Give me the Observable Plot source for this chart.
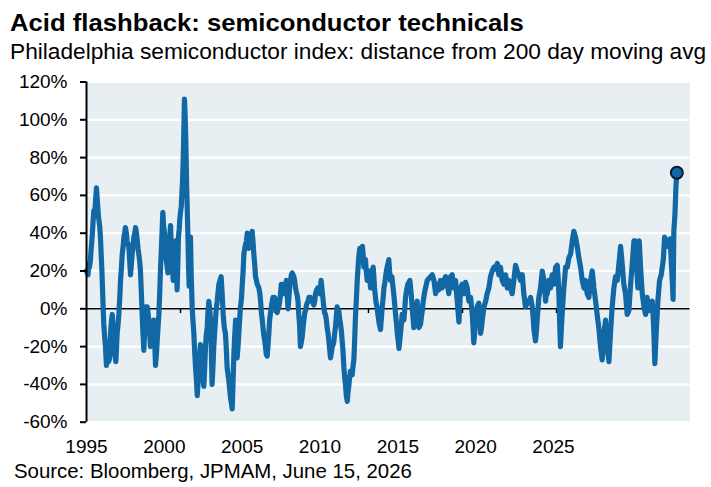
<!DOCTYPE html>
<html>
<head>
<meta charset="utf-8">
<script src="https://cdn.jsdelivr.net/npm/d3@7"></script>
<script src="https://cdn.jsdelivr.net/npm/@observablehq/plot@0.6"></script>
<style>
  body { margin: 0; background: #fff; }
  #wrap { position: relative; width: 711px; height: 487px; overflow: hidden; font-family: "Liberation Sans", Arial, sans-serif; color: #000; }
  #wrap svg { position: absolute; left: 0; }
  .txt { position: absolute; white-space: nowrap; transform-origin: left center; }
  #title { left: 10px; top: 11px; font-size: 24px; line-height: 24px; font-weight: bold; transform: scaleX(1.07); }
  #subtitle { left: 10px; top: 40px; font-size: 22.7px; line-height: 23px; }
  #caption { left: 14px; top: 461px; font-size: 20.4px; line-height: 20px; }
</style>
</head>
<body>
<div id="wrap"></div>
<script>
// Philadelphia semiconductor index, % distance from its 200-day moving average
// [decimal year, percent]
const seg1995 = [
  [1995.00,20],[1995.04,19],[1995.08,18],[1995.12,24],[1995.16,22],[1995.21,26],[1995.25,32],[1995.30,38],[1995.35,46],[1995.39,52],
  [1995.44,50],[1995.48,57],[1995.53,64],[1995.57,58],[1995.60,54],[1995.63,49],[1995.66,47],[1995.71,43],[1995.75,36],[1995.78,29],
  [1995.82,20],[1995.85,11],[1995.88,2],[1995.92,-8],[1995.96,-14],[1996.01,-20],[1996.06,-30],[1996.10,-24],[1996.13,-24],[1996.17,-28],
  [1996.21,-27],[1996.25,-20],[1996.28,-13],[1996.33,-6],[1996.37,-3],[1996.42,-10],[1996.46,-18],[1996.49,-24],[1996.53,-26],[1996.56,-28],
  [1996.60,-20],[1996.63,-13],[1996.68,-8],[1996.72,-3],[1996.77,6],[1996.81,15],[1996.86,22],[1996.90,29],[1996.95,33],[1996.99,38],
  [1997.03,40],[1997.07,43],[1997.12,40],[1997.16,36],[1997.21,34],[1997.25,33],[1997.30,25],[1997.34,18],[1997.39,24],[1997.43,29],
  [1997.48,34],[1997.52,38],[1997.57,40],[1997.61,43],[1997.66,40],[1997.70,36],[1997.74,32],[1997.78,29],[1997.83,25],[1997.87,20],
  [1997.92,8],[1997.96,-3],[1998.00,-12],[1998.05,-22],[1998.10,-10],[1998.14,1],[1998.19,-2],[1998.23,1],[1998.28,-3],[1998.32,-6],
  [1998.36,-13],[1998.40,-20],[1998.45,-14],[1998.49,-10],[1998.54,-8],[1998.58,-6],[1998.63,-18],[1998.67,-30],[1998.72,-24],[1998.76,-17],
  [1998.81,-9],[1998.85,-3],[1998.90,10],[1998.94,22],[1999.00,36],[1999.06,51],[1999.10,44],[1999.15,40],[1999.19,33],[1999.22,27],
  [1999.27,24],[1999.33,19],[1999.36,26],[1999.40,33],[1999.44,40],[1999.47,44],[1999.50,36],[1999.54,29],[1999.58,22],[1999.61,15],
  [1999.64,22],[1999.68,29],[1999.71,33],[1999.75,36],[1999.79,20],[1999.82,10],[1999.86,24],[1999.89,38],[1999.93,42],[1999.96,47],
  [2000.00,51],[2000.04,54],[2000.08,62],[2000.11,68],[2000.14,78],[2000.16,86],[2000.19,100],[2000.21,111],[2000.24,104],[2000.27,94],
  [2000.30,80],[2000.32,68],[2000.36,52],[2000.39,40],[2000.43,22],[2000.46,12],[2000.50,38],[2000.53,38],[2000.57,18],[2000.62,1],
  [2000.66,-6],[2000.71,-13],[2000.75,-22],[2000.80,-31],[2000.85,-38],[2000.89,-46],[2000.93,-40],[2000.98,-34],[2001.02,-25],[2001.06,-19],
  [2001.10,-24],[2001.15,-31],[2001.20,-37],[2001.24,-41],[2001.28,-33],[2001.33,-20],[2001.37,-14],[2001.42,-10],[2001.46,-2],[2001.51,4],
  [2001.55,0],[2001.60,-6],[2001.64,-22],[2001.68,-40],[2001.73,-30],[2001.77,-20],[2001.82,-12],[2001.86,-6],[2001.90,0],[2001.95,4],
  [2002.00,9],[2002.04,13],[2002.10,15],[2002.16,17],[2002.21,9],[2002.27,-3],[2002.33,-10],[2002.39,-13],[2002.44,-22],[2002.48,-31],
  [2002.53,-35],[2002.57,-38],[2002.62,-43],[2002.66,-47],[2002.71,-50],[2002.75,-53],[2002.79,-40],[2002.84,-24],[2002.88,-15],[2002.93,-6],
  [2002.97,-12],[2003.01,-26],[2003.06,-20],[2003.10,-13],[2003.15,-5],[2003.19,1],[2003.24,5],[2003.28,12],[2003.33,20],[2003.37,29],
  [2003.42,32],[2003.46,34],[2003.51,36],[2003.55,40],[2003.59,37],[2003.63,32],[2003.68,35],[2003.72,36],[2003.77,38],[2003.81,41],
  [2003.86,35],[2003.90,29],[2003.95,23],[2003.99,17],[2004.04,15],[2004.08,13],[2004.13,12],[2004.17,11],[2004.22,8],[2004.26,4],
  [2004.30,-2],[2004.34,-5],[2004.39,-10],[2004.43,-14],[2004.48,-17],[2004.52,-20],[2004.56,-24],[2004.61,-25],[2004.65,-20],[2004.70,-13],
  [2004.74,-6],[2004.79,-2],[2004.83,1],[2004.88,4],[2004.92,6],[2004.96,4]
];
const seg2005 = [
  [2005.01,6],[2005.05,3],[2005.10,-1],[2005.14,-2],[2005.19,0],[2005.23,1],[2005.28,4],[2005.32,8],[2005.36,13],[2005.41,13],
  [2005.45,10],[2005.50,8],[2005.54,11],[2005.59,12],[2005.63,15],[2005.67,8],[2005.72,0],[2005.76,5],[2005.81,12],[2005.85,15],
  [2005.90,18],[2005.94,19],[2005.98,18],[2006.03,17],[2006.07,15],[2006.12,11],[2006.16,9],[2006.21,7],[2006.25,4],[2006.29,-3],
  [2006.33,-8],[2006.38,-20],[2006.42,-18],[2006.47,-15],[2006.52,-10],[2006.56,-6],[2006.61,-2],[2006.65,-1],[2006.70,2],[2006.74,3],
  [2006.79,4],[2006.83,6],[2006.87,6],[2006.91,6],[2006.96,5],[2007.00,4],[2007.05,3],[2007.09,2],[2007.14,4],[2007.18,8],
  [2007.24,10],[2007.30,11],[2007.36,9],[2007.41,8],[2007.45,12],[2007.48,15],[2007.51,12],[2007.55,8],[2007.58,5],[2007.62,1],
  [2007.66,-2],[2007.71,-3],[2007.76,-6],[2007.80,-10],[2007.85,-13],[2007.89,-17],[2007.94,-22],[2007.98,-26],[2008.03,-23],[2008.07,-20],
  [2008.12,-19],[2008.16,-17],[2008.20,-13],[2008.24,-10],[2008.29,-4],[2008.33,1],[2008.38,-1],[2008.42,-1],[2008.46,-5],[2008.51,-8],
  [2008.56,-12],[2008.60,-17],[2008.64,-22],[2008.69,-31],[2008.73,-36],[2008.78,-41],[2008.82,-46],[2008.87,-49],[2008.91,-44],[2008.95,-41],
  [2009.00,-36],[2009.04,-33],[2009.09,-34],[2009.13,-35],[2009.18,-30],[2009.22,-27],[2009.27,-15],[2009.31,-3],[2009.36,6],[2009.40,15],
  [2009.44,21],[2009.47,26],[2009.51,30],[2009.54,32],[2009.58,30],[2009.61,29],[2009.65,31],[2009.68,33],[2009.72,28],[2009.75,22],
  [2009.80,24],[2009.84,26],[2009.88,20],[2009.93,15],[2009.97,17],[2010.02,20],[2010.06,16],[2010.11,11],[2010.15,15],[2010.18,18],
  [2010.22,21],[2010.25,22],[2010.29,16],[2010.32,11],[2010.36,7],[2010.39,4],[2010.45,1],[2010.50,-3],[2010.57,-8],[2010.64,-11],
  [2010.69,-4],[2010.73,1],[2010.78,6],[2010.82,11],[2010.87,14],[2010.91,17],[2010.95,20],[2010.99,22],[2011.04,24],[2011.08,26],
  [2011.12,20],[2011.17,15],[2011.24,17],[2011.31,11],[2011.38,4],[2011.44,-3],[2011.49,-8],[2011.53,-13],[2011.58,-17],[2011.62,-21],
  [2011.66,-17],[2011.70,-13],[2011.75,-8],[2011.79,-3],[2011.84,-4],[2011.88,-6],[2011.93,0],[2011.97,6],[2012.03,10],[2012.09,13],
  [2012.15,14],[2012.20,15],[2012.27,8],[2012.32,1],[2012.37,-5],[2012.41,-10],[2012.46,-6],[2012.50,-3],[2012.55,1],[2012.59,4],
  [2012.64,-3],[2012.68,-10],[2012.73,-9],[2012.77,-8],[2012.82,-4],[2012.86,-1],[2012.90,3],[2012.94,6],[2012.99,9],[2013.03,11],
  [2013.08,13],[2013.12,15],[2013.21,16],[2013.30,17],[2013.39,18],[2013.48,15],[2013.57,8],[2013.65,13],[2013.74,10],[2013.83,15],
  [2013.92,11],[2014.01,15],[2014.10,17],[2014.19,13],[2014.27,8],[2014.36,17],[2014.45,18],[2014.54,11],[2014.63,15],[2014.72,4],
  [2014.81,-7],[2014.90,11],[2014.98,13]
];
const seg2015 = [
  [2015.07,8],[2015.16,14],[2015.25,11],[2015.34,4],[2015.43,6],[2015.52,-3],[2015.56,-10],[2015.60,-18],[2015.65,-12],[2015.69,-6],
  [2015.78,1],[2015.87,3],[2015.92,-5],[2015.96,-13],[2016.01,-10],[2016.05,-6],[2016.14,1],[2016.23,4],[2016.31,8],[2016.40,11],
  [2016.49,17],[2016.58,20],[2016.67,22],[2016.76,21],[2016.85,24],[2016.93,18],[2017.02,22],[2017.11,15],[2017.20,13],[2017.29,18],
  [2017.38,11],[2017.47,15],[2017.55,11],[2017.64,8],[2017.73,15],[2017.82,23],[2017.91,20],[2018.00,18],[2018.09,15],[2018.18,18],
  [2018.26,8],[2018.35,1],[2018.44,3],[2018.53,4],[2018.62,6],[2018.71,1],[2018.76,-5],[2018.80,-11],[2018.88,-17],[2018.93,-12],
  [2018.97,-6],[2019.06,6],[2019.15,11],[2019.24,20],[2019.33,15],[2019.38,10],[2019.42,4],[2019.46,8],[2019.51,8],[2019.55,12],
  [2019.59,15],[2019.68,11],[2019.77,18],[2019.86,13],[2019.95,22],[2020.04,23],[2020.09,16],[2020.13,6],[2020.17,-8],[2020.21,-20],
  [2020.25,-12],[2020.30,-3],[2020.35,5],[2020.39,11],[2020.44,17],[2020.48,22],[2020.57,22],[2020.66,27],[2020.75,29],[2020.84,36],
  [2020.92,41],[2021.01,38],[2021.10,33],[2021.19,27],[2021.28,22],[2021.37,15],[2021.46,11],[2021.54,15],[2021.63,8],[2021.72,6],
  [2021.81,15],[2021.90,20],[2021.99,11],[2022.08,4],[2022.16,-3],[2022.25,-10],[2022.34,-20],[2022.43,-27],[2022.48,-20],[2022.52,-13],
  [2022.61,-6],[2022.70,-20],[2022.79,-28],[2022.83,-20],[2022.87,-13],[2022.96,1],[2023.05,11],[2023.14,17],[2023.23,15],[2023.32,24],
  [2023.41,33],[2023.49,24],[2023.58,13],[2023.67,8],[2023.76,-3],[2023.85,-1],[2023.94,13],[2024.03,24],[2024.12,36],[2024.17,36],
  [2024.26,22],[2024.33,11],[2024.40,36],[2024.47,22],[2024.56,8],[2024.65,1],[2024.74,-3],[2024.82,6],[2024.91,-1],[2025.00,3],
  [2025.09,4],[2025.14,-4],[2025.18,-13],[2025.23,-29],[2025.27,-20],[2025.30,-13],[2025.39,4],[2025.48,15],[2025.57,18],[2025.68,26],
  [2025.75,38],[2025.81,33],[2025.86,36],[2025.94,33],[2026.03,37],[2026.08,30],[2026.12,22],[2026.17,12],[2026.20,5],[2026.24,41],
  [2026.30,50],[2026.35,64],[2026.40,72]
];

const yTicks = [-60, -40, -20, 0, 20, 40, 60, 80, 100, 120];
const tickYears = [2000, 2005, 2010, 2015, 2020, 2025];
const yearLabels = [1995, 2000, 2005, 2010, 2015, 2020, 2025];

const titleText = "Acid flashback: semiconductor technicals";
const subtitleText = "Philadelphia semiconductor index: distance from 200 day moving avg";
const captionText = "Source: Bloomberg, JPMAM, June 15, 2026";

const series = [...seg1995, ...seg2005, ...seg2015].map(([year, pct]) => ({year, pct}));
const latest = series[series.length - 1];

const blue = "#1267a5";
const fontFamily = "'Liberation Sans', Arial, sans-serif";

const chart = Plot.plot({
  width: 711,
  height: 430,
  marginLeft: 86,
  marginRight: 21.5,
  marginTop: 81.5,
  marginBottom: 8.3,
  style: {fontFamily, fontSize: "19px", color: "#000", background: "transparent", overflow: "visible"},
  x: {type: "linear", domain: [1995, 2027.1], axis: null},
  y: {domain: [-60, 120], axis: null},
  marks: [
    Plot.frame({fill: "#e7eff3", stroke: null}),
    Plot.gridY(yTicks, {stroke: "#fff", strokeOpacity: 1, strokeWidth: 2.2}),
    Plot.ruleY([0], {stroke: "#000", strokeWidth: 1.6}),
    Plot.ruleX(tickYears, {x: d => d, y1: 0, y2: -2.5, stroke: "#000", strokeWidth: 1.5}),
    Plot.line(series, {x: "year", y: "pct", stroke: blue, strokeWidth: 5.2, strokeLinejoin: "round", strokeLinecap: "round"}),
    Plot.dot([latest], {x: "year", y: "pct", r: 6, fill: blue, stroke: "#0b1b2b", strokeWidth: 2}),
    Plot.ruleX([1995], {stroke: "#000", strokeWidth: 2}),
    Plot.axisY({ticks: yTicks, tickFormat: d => d + "%", tickSize: 6, tickPadding: 13, stroke: "#000", strokeWidth: 2, fontSize: 19, label: null})
  ]
});

// year labels along the bottom, evenly spaced under the panel
const labelStrip = Plot.plot({
  width: 711,
  height: 24,
  margin: 0,
  style: {fontFamily, fontSize: "19px", color: "#000", background: "transparent", overflow: "visible"},
  x: {type: "linear", domain: [1995, 2025], range: [86, 553], axis: null},
  marks: [
    Plot.text(yearLabels, {x: d => d, frameAnchor: "middle", text: d => String(d), fontSize: 19, fill: "#000"})
  ]
});

const wrap = document.getElementById("wrap");
chart.style.top = "0px";
labelStrip.style.top = "434px";
wrap.appendChild(chart);
wrap.appendChild(labelStrip);

for (const [id, text] of [["title", titleText], ["subtitle", subtitleText], ["caption", captionText]]) {
  const el = document.createElement("div");
  el.id = id;
  el.className = "txt";
  el.textContent = text;
  wrap.appendChild(el);
}
</script>
</body>
</html>
